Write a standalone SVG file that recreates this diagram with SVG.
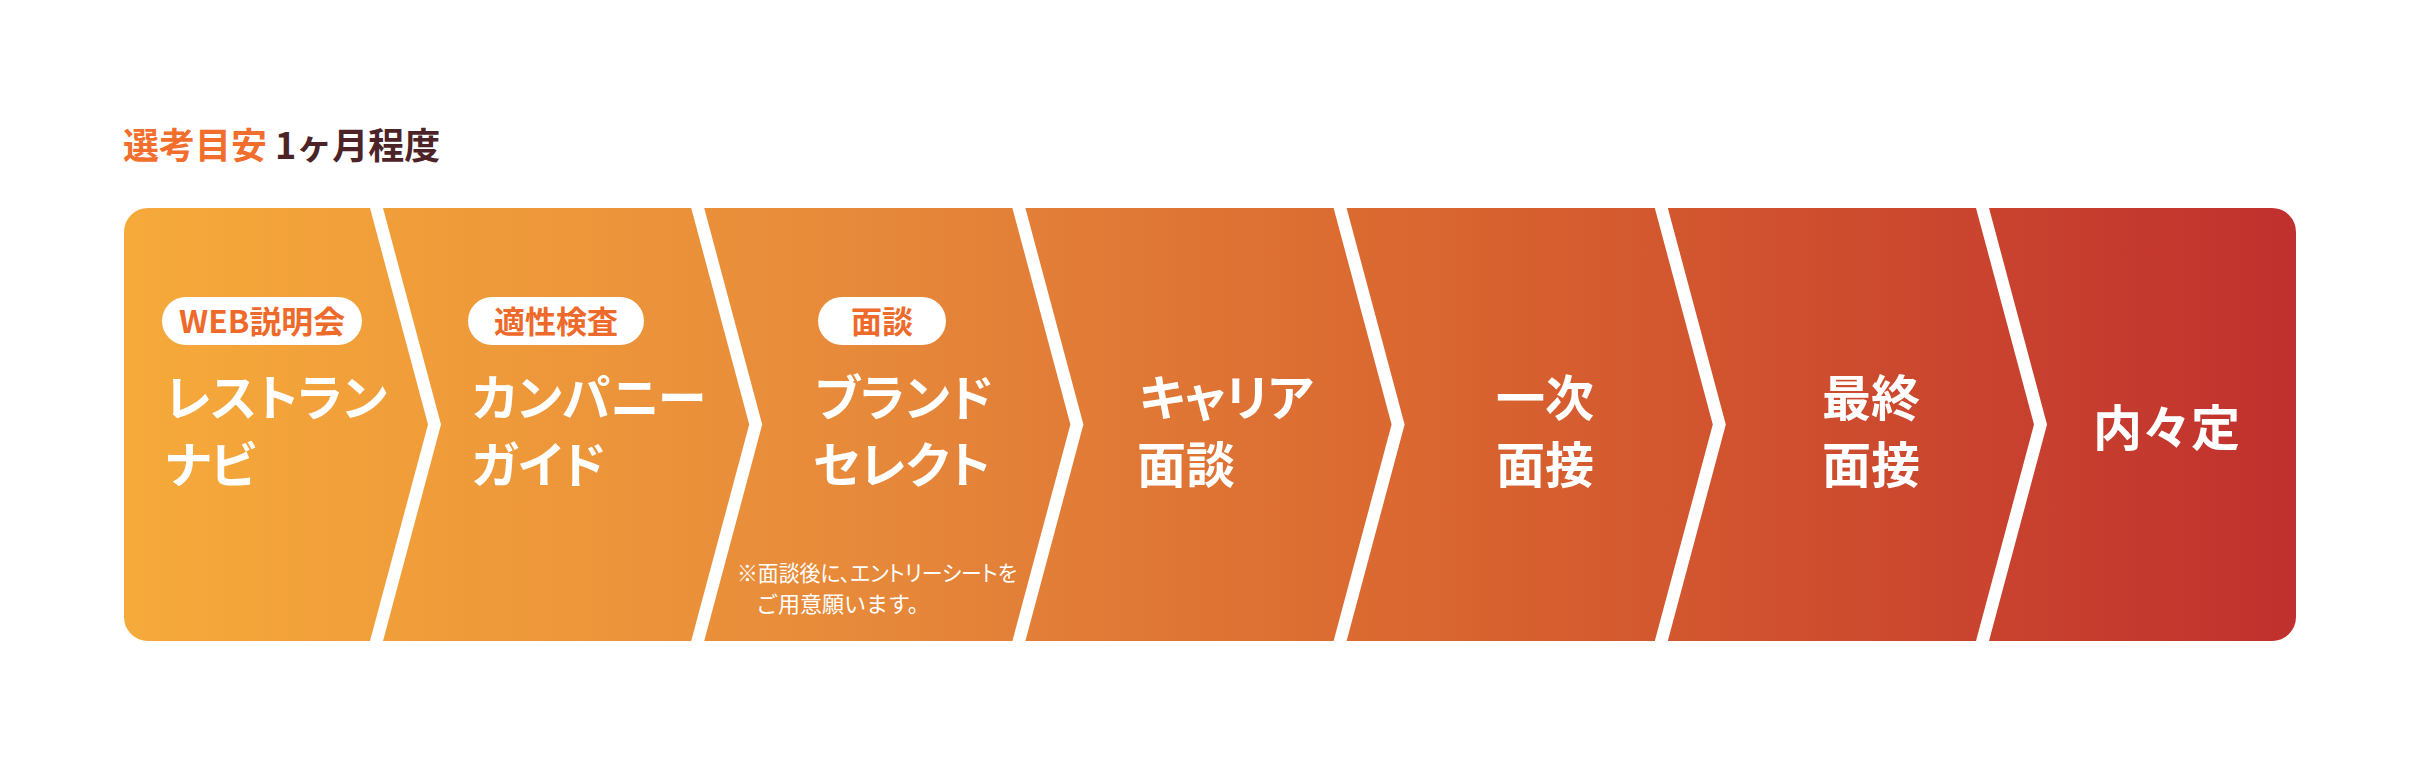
<svg xmlns="http://www.w3.org/2000/svg" width="2421" height="768" viewBox="0 0 2421 768">
<defs>
<linearGradient id="flow" gradientUnits="userSpaceOnUse" x1="124" y1="0" x2="2296" y2="0">
<stop offset="0" stop-color="#F6AA3A"/>
<stop offset="0.35" stop-color="#E6883A"/>
<stop offset="0.63" stop-color="#D8622F"/>
<stop offset="1" stop-color="#C0302E"/>
</linearGradient>
<style>
text{font-family:"Noto Sans CJK JP","Noto Sans",sans-serif;}
.ttl{font-size:36px;font-weight:700;}
.panel{fill:url(#flow);}
.main{font-size:49px;font-weight:700;fill:#FFFFFF;}
.palt{font-feature-settings:"palt" 1;}
.pill{fill:#FFFFFF;}
.ptx{font-size:31px;font-weight:700;fill:#EE6A2B;text-anchor:middle;}
.note{font-size:22px;font-weight:400;fill:#FFFFFF;}
</style>
</defs>
<rect width="2421" height="768" fill="#FFFFFF"/>
<g id="title">
<text class="ttl" x="123" y="159" fill="#F26E2D">選考目安</text>
<text class="ttl" x="275" y="159" fill="#4C2428">1ヶ月程度</text>
</g>
<g id="connectors"></g>
<g id="step1">
<path class="panel" d="M148,208 H370 L428,424.5 L370,641 H148 A24,24 0 0 1 124,617 V232 A24,24 0 0 1 148,208 Z"/>
<rect class="pill" x="162" y="297" width="200" height="48" rx="24"/>
<text class="ptx" x="262" y="333" textLength="166" lengthAdjust="spacingAndGlyphs">WEB説明会</text>
<text class="main palt" x="165" y="416">レストラン</text>
<text class="main palt" x="165" y="483">ナビ</text>
</g>
<g id="step2">
<path class="panel" d="M383,208 H691.2 L749.2,424.5 L691.2,641 H383 L441,424.5 Z"/>
<rect class="pill" x="468" y="297" width="176" height="48" rx="24"/>
<text class="ptx" x="556" y="333">適性検査</text>
<text class="main palt" x="472" y="416">カンパニー</text>
<text class="main palt" x="472" y="483">ガイド</text>
</g>
<g id="step3">
<path class="panel" d="M704.2,208 H1012.4 L1070.4,424.5 L1012.4,641 H704.2 L762.2,424.5 Z"/>
<rect class="pill" x="818" y="297" width="128" height="48" rx="24"/>
<text class="ptx" x="882" y="333">面談</text>
<text class="main palt" x="815" y="416">ブランド</text>
<text class="main palt" x="813" y="483">セレクト</text>
<text class="note palt" x="737" y="581" textLength="280" lengthAdjust="spacingAndGlyphs">※面談後に、エントリーシートを</text>
<text class="note" x="756" y="612">ご用意願います。</text>
</g>
<g id="step4">
<path class="panel" d="M1025.4,208 H1333.6 L1391.6,424.5 L1333.6,641 H1025.4 L1083.4,424.5 Z"/>
<text class="main palt" x="1139" y="416">キャリア</text>
<text class="main" x="1137" y="483">面談</text>
</g>
<g id="step5">
<path class="panel" d="M1346.6,208 H1654.8 L1712.8,424.5 L1654.8,641 H1346.6 L1404.6,424.5 Z"/>
<text class="main" x="1496" y="416">一次</text>
<text class="main" x="1496" y="483">面接</text>
</g>
<g id="step6">
<path class="panel" d="M1667.8,208 H1976 L2034,424.5 L1976,641 H1667.8 L1725.8,424.5 Z"/>
<text class="main" x="1822" y="416">最終</text>
<text class="main" x="1822" y="483">面接</text>
</g>
<g id="step7">
<path class="panel" d="M1989,208 H2272 A24,24 0 0 1 2296,232 V617 A24,24 0 0 1 2272,641 H1989 L2047,424.5 Z"/>
<text class="main" x="2093" y="446">内々定</text>
</g>
</svg>
